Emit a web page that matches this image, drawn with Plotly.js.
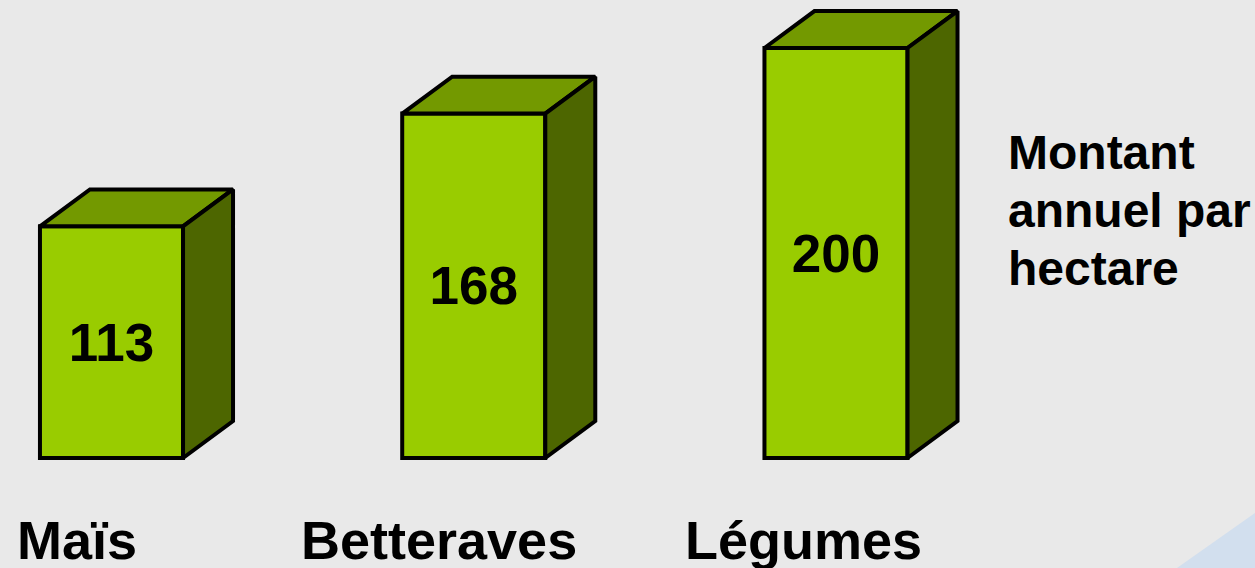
<!DOCTYPE html>
<html>
<head>
<meta charset="utf-8">
<script src="https://cdn.plot.ly/plotly-3.0.1.min.js"></script>
<style>html,body{margin:0;padding:0;background:#E9E9E9;}#chart{width:1255px;height:568px;}</style>
</head>
<body>
<div id="chart"></div>
<script>
// Data
const categories = ["Maïs", "Betteraves", "Légumes"];
const values = [113, 168, 200];
const valueLabels = ["113", "168", "200"];
const sideNote = ["Montant", "annuel par", "hectare"];

// Style / geometry
const W = 1255, H = 568;
const xPos = categories.map((c, i) => i);
const barWidth = 0.395;
const depthX = 0.138;   // x-axis units
const depthY = 18.0;    // y-axis units
const frontColor = "#99CC00";
const topColor = "#739900";
const sideColor = "#4D6600";
const bg = "#E9E9E9";
const FONT = "Liberation Sans, Arial, sans-serif";

const front = {
  type: "bar",
  x: xPos,
  y: values,
  width: barWidth,
  text: valueLabels,
  textposition: "inside",
  insidetextanchor: "middle",
  textangle: 0,
  insidetextfont: {family: FONT, size: 53, color: "#000000", weight: "bold"},
  marker: {color: frontColor, line: {color: "#000000", width: 4}},
  hoverinfo: "skip",
  cliponaxis: false
};

const topX = [], topY = [], sideX = [], sideY = [];
values.forEach((v, i) => {
  const l = xPos[i] - barWidth / 2, r = xPos[i] + barWidth / 2;
  topX.push(l, l + depthX, r + depthX, r, l, null);
  topY.push(v, v + depthY, v + depthY, v, v, null);
  sideX.push(r, r + depthX, r + depthX, r, r, null);
  sideY.push(0, depthY, v + depthY, v, 0, null);
});

const tops = {
  type: "scatter", mode: "lines", x: topX, y: topY, fill: "toself",
  fillcolor: topColor, line: {color: "#000000", width: 4}, hoverinfo: "skip", cliponaxis: false
};
const sides = {
  type: "scatter", mode: "lines", x: sideX, y: sideY, fill: "toself",
  fillcolor: sideColor, line: {color: "#000000", width: 4}, hoverinfo: "skip", cliponaxis: false
};

// axis mapping: category 0 center at 111.5px, spacing 362.25px; baseline at 458px, 2.05 px/unit
const pxPerX = 362.25, x0px = 111.5;
const pxPerY = 2.05, basePx = 458;

const labelShift = [-35, -35, -33];
const annotations = categories.map((c, i) => ({
  x: xPos[i], xref: "x", xshift: labelShift[i],
  y: 1 - 540 / H, yref: "paper", yanchor: "middle",
  text: "<b>" + c + "</b>", showarrow: false,
  font: {family: FONT, size: 54, color: "#000000"}
}));
const noteCenters = [153, 210.5, 268.5];
sideNote.forEach((line, i) => {
  annotations.push({
    x: 1006 / W, xref: "paper", xanchor: "left",
    y: 1 - noteCenters[i] / H, yref: "paper", yanchor: "middle",
    align: "left", showarrow: false,
    text: "<b>" + line + "</b>",
    font: {family: FONT, size: 48, color: "#000000"}
  });
});

const layout = {
  width: W, height: H,
  margin: {l: 0, r: 0, t: 0, b: 0, pad: 0},
  paper_bgcolor: bg, plot_bgcolor: bg,
  showlegend: false,
  hovermode: false,
  xaxis: {range: [-x0px / pxPerX, (W - x0px) / pxPerX], visible: false, fixedrange: true},
  yaxis: {range: [-(H - basePx) / pxPerY, basePx / pxPerY], visible: false, fixedrange: true},
  annotations: annotations,
  shapes: [{
    type: "path", xref: "paper", yref: "paper",
    path: "M " + (1177 / W) + " 0 L 1 " + (1 - 513 / H) + " L 1 0 Z",
    fillcolor: "#D2DFEE", line: {width: 0}, layer: "below"
  }]
};

Plotly.newPlot("chart", [front, tops, sides], layout, {displayModeBar: false, staticPlot: true});
</script>
</body>
</html>
